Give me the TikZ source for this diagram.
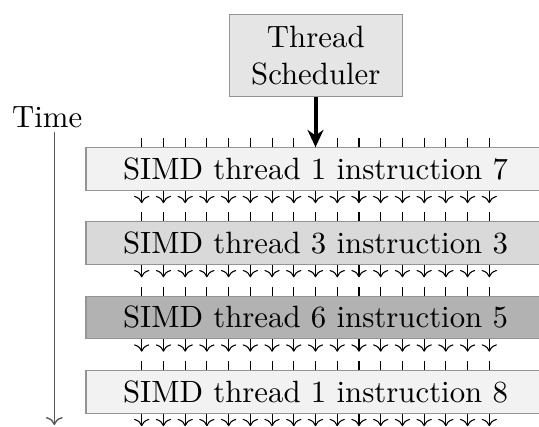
\documentclass[tikz,border=0pt]{standalone}
\usetikzlibrary{arrows.meta}
\def\px{0.3247pt}
\begin{document}
\begin{tikzpicture}[x=0.3247pt,y=-0.3247pt,
  barbox/.style={draw=black!42, line width=0.35pt, minimum width=459*\px, minimum height=42.5*\px, inner sep=0pt},
  schedbox/.style={draw=black!42, line width=0.35pt, fill=black!10, minimum width=173*\px, minimum height=82.4*\px, align=center, inner sep=0pt},
  tick/.style={line width=0.35pt},
  lane/.style={->, line width=0.35pt},
  bigarrow/.style={-{Stealth[length=5.6pt,width=5.2pt]}, line width=1.3pt}]
\useasboundingbox (0,0) rectangle (539,426);
% bars
\node[barbox, fill=black!5]  (b1) at (315.5,168.9) {SIMD thread 1 instruction 7};
\node[barbox, fill=black!15] (b2) at (315.5,243.0) {SIMD thread 3 instruction 3};
\node[barbox, fill=black!30] (b3) at (315.5,317.4) {SIMD thread 6 instruction 5};
\node[barbox, fill=black!5]  (b4) at (315.5,391.9) {SIMD thread 1 instruction 8};
% lanes
\foreach \b in {b1,b2,b3,b4}{
  \foreach \k in {0,...,16}{
    \coordinate (col) at ({141.7+21.725*\k},0);
    \draw[tick] (\b.north -| col) -- ++(0,-9);
    \draw[lane] (\b.south -| col) -- ++(0,12.5);
  }
}
% scheduler
\node[schedbox] (sched) at (315.8,55.5) {Thread\\Scheduler};
\draw[bigarrow] (sched.south -| b1) -- (b1.north);
% time
\node[anchor=base] (time) at (47.2,127.3) {Time};
\coordinate (ts) at (54.3,131.7);
\coordinate (te) at (54.3,425);
\draw[->, draw=black!65, line width=0.45pt] (ts) -- (te);
\end{tikzpicture}
\end{document}
